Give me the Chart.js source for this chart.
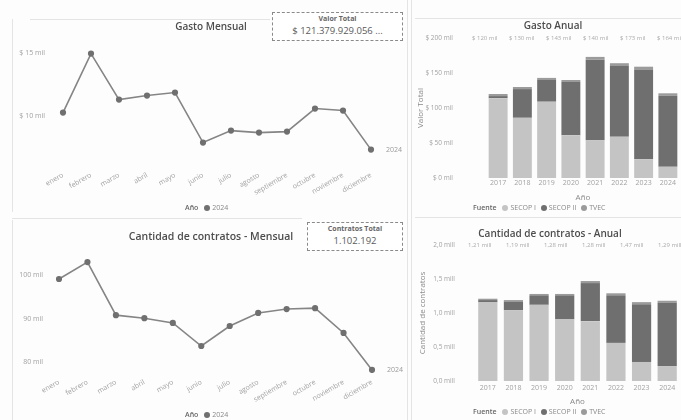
<!DOCTYPE html>
<html lang="es">
<head>
<meta charset="utf-8">
<title>Gasto y contratos</title>
<script src="https://cdn.jsdelivr.net/npm/chart.js@4.4.1/dist/chart.umd.min.js"></script>
<style>
    html, body { margin: 0; padding: 0; background: #fdfdfd; }
    #page { position: relative; width: 681px; height: 420px; overflow: hidden; font-family: "Open Sans", sans-serif; color: #555; }
    .line { position: absolute; background: #e4e4e4; }
    .chart { position: absolute; }
    .title { position: absolute; text-align: center; font-size: 10px; font-weight: 600; color: #4d4d4d; white-space: nowrap; }
    .kpi { position: absolute; border: 1px dashed #8a8a8a; text-align: center; background: #fff; }
    .kpi .k-title { font-size: 7px; font-weight: 700; color: #666; line-height: 10px; margin-top: 1px; }
    .kpi .k-value { font-size: 9.5px; color: #5a5a5a; line-height: 14px; }
    .legend { position: absolute; font-size: 7px; color: #888; white-space: nowrap; line-height: 10px; }
    .legend b { font-weight: 600; color: #666; margin-right: 3px; }
    .legend span.dot { display: inline-block; width: 6px; height: 6px; border-radius: 3px; margin: 0 2px 0 3px; vertical-align: -1px; }
</style>
</head>
<body>
<div id="page">
    <div class="line" style="left:12px;top:19px;width:1px;height:193px;"></div>
    <div class="line" style="left:30px;top:19px;width:240px;height:1px;"></div>
    <div class="line" style="left:407px;top:0;width:1px;height:420px;"></div>
    <div class="line" style="left:411px;top:0;width:1px;height:420px;"></div>
    <div class="line" style="left:415px;top:18px;width:266px;height:1px;"></div>
    <div class="line" style="left:12px;top:220px;width:1px;height:200px;"></div>
    <div class="line" style="left:12px;top:218px;width:290px;height:1px;"></div>
    <div class="line" style="left:415px;top:217px;width:266px;height:1px;"></div>

    <div class="chart" style="left:0;top:0;"><canvas id="gastoMensual" width="405" height="212"></canvas></div>
    <div class="chart" style="left:412px;top:0;"><canvas id="gastoAnual" width="269" height="212"></canvas></div>
    <div class="chart" style="left:0;top:212px;"><canvas id="contratosMensual" width="405" height="208"></canvas></div>
    <div class="chart" style="left:412px;top:212px;"><canvas id="contratosAnual" width="269" height="208"></canvas></div>

    <div class="title" style="left:131px;top:19px;width:160px;">Gasto Mensual</div>
    <div class="title" style="left:473px;top:18px;width:160px;">Gasto Anual</div>
    <div class="title" style="left:111px;top:229px;width:200px;font-size:10.5px;">Cantidad de contratos - Mensual</div>
    <div class="title" style="left:450px;top:226px;width:200px;">Cantidad de contratos - Anual</div>

    <div class="kpi" style="left:272px;top:12px;width:129px;height:27px;">
        <div class="k-title">Valor Total</div>
        <div class="k-value">$ 121.379.929.056 ...</div>
    </div>
    <div class="kpi" style="left:307px;top:222px;width:94px;height:27px;">
        <div class="k-title">Contratos Total</div>
        <div class="k-value">1.102.192</div>
    </div>

    <div class="legend" id="legendAnio1" style="left:185px;top:203px;"></div>
    <div class="legend" id="legendAnio2" style="left:185px;top:410px;"></div>
    <div class="legend" id="legendFuente1" style="left:473px;top:203px;"></div>
    <div class="legend" id="legendFuente2" style="left:473px;top:407px;"></div>
</div>

<script>
// meses y años
var meses = ['enero', 'febrero', 'marzo', 'abril', 'mayo', 'junio', 'julio', 'agosto', 'septiembre', 'octubre', 'noviembre', 'diciembre'];
var anios = ['2017', '2018', '2019', '2020', '2021', '2022', '2023', '2024'];
var anioSerie = '2024';

// gasto mensual 2024, en mil millones de pesos
var gastoMes = [10.24, 14.92, 11.27, 11.59, 11.83, 7.86, 8.81, 8.65, 8.73, 10.56, 10.40, 7.30];
var gastoMesTicks = [10, 15];

// contratos por mes 2024
var contratosMes = [99100, 103000, 90800, 90100, 89000, 83700, 88300, 91300, 92200, 92400, 86700, 78200];
var contratosMesTicks = [80000, 90000, 100000];

// gasto anual por fuente, en mil millones
var fuentes = ['SECOP I', 'SECOP II', 'TVEC'];
var fuenteColores = ['#c4c4c4', '#6f6f6f', '#9b9b9b'];
var gastoSecop1 = [114, 86, 109, 61, 54, 59, 27, 16];
var gastoSecop2 = [3, 41, 31, 76, 115, 101, 128, 102];
var gastoTvec = [3, 3, 3, 3, 4, 4, 4, 3];

// contratos anuales por fuente, en millones
var contratosSecop1 = [1.16, 1.04, 1.12, 0.91, 0.88, 0.56, 0.28, 0.22];
var contratosSecop2 = [0.03, 0.13, 0.14, 0.35, 0.56, 0.70, 0.85, 0.93];
var contratosTvec = [0.02, 0.02, 0.02, 0.02, 0.03, 0.03, 0.03, 0.03];

var tickColor = '#a2a2a2';
var fontName = '"Open Sans", sans-serif';

Chart.defaults.font.family = fontName;
Chart.defaults.color = tickColor;

// etiqueta "2024" al final de la línea
var endLabelPlugin = {
    id: 'endLabel',
    afterDatasetsDraw: function (chart) {
        var ctx = chart.ctx;
        chart.data.datasets.forEach(function (ds, i) {
            var pts = chart.getDatasetMeta(i).data;
            var last = pts[pts.length - 1];
            ctx.save();
            ctx.font = '7px ' + fontName;
            ctx.fillStyle = '#9a9a9a';
            ctx.textBaseline = 'middle';
            ctx.fillText(ds.label, last.x + 15, last.y);
            ctx.restore();
        });
    }
};

// fila de totales arriba del gráfico
var totalsRowPlugin = {
    id: 'totalsRow',
    afterDraw: function (chart, args, opts) {
        if (!opts.labels) {
            return;
        }
        var ctx = chart.ctx;
        var area = chart.chartArea;
        ctx.save();
        ctx.font = '6px ' + fontName;
        ctx.fillStyle = '#ababab';
        ctx.textBaseline = 'middle';
        opts.labels.forEach(function (t, i) {
            ctx.fillText(t, area.left + opts.start + i * opts.step, area.top);
        });
        ctx.restore();
    }
};

function sumar(a, b, c) {
    return a.map(function (v, i) { return v + b[i] + c[i]; });
}

function fixedTicks(list) {
    return function (scale) {
        scale.ticks = list.map(function (v) { return { value: v }; });
    };
}

// ancho fijo del eje y, sin que el padding de las etiquetas mueva el área
function fixedWidth(w) {
    return function (scale) {
        scale.width = w;
        scale.paddingTop = 0;
        scale.paddingBottom = 0;
    };
}

var noGrid = { display: false, drawTicks: false };

function lineOptions(values, label, yMin, yMax, ticks, fmt, pad, xHeight, yPad) {
    return {
        type: 'line',
        data: {
            labels: meses,
            datasets: [
                {
                    label: label,
                    data: values,
                    borderColor: '#858585',
                    borderWidth: 1.6,
                    pointRadius: 2.3,
                    pointBackgroundColor: '#707070',
                    pointBorderColor: '#707070',
                    tension: 0
                }
            ]
        },
        options: {
            responsive: false,
            animation: false,
            layout: { padding: pad },
            plugins: {
                legend: { display: false },
                tooltip: { enabled: false }
            },
            scales: {
                x: {
                    grid: noGrid,
                    border: { display: false },
                    ticks: { font: { size: 7 }, minRotation: 30, maxRotation: 30, autoSkip: false, padding: 5 },
                    afterFit: function (scale) { scale.height = xHeight; }
                },
                y: {
                    min: yMin,
                    max: yMax,
                    grid: noGrid,
                    border: { display: false },
                    ticks: { font: { size: 7 }, padding: yPad, callback: fmt },
                    afterBuildTicks: fixedTicks(ticks),
                    afterFit: fixedWidth(50)
                }
            }
        },
        plugins: [endLabelPlugin]
    };
}

function barOptions(s1, s2, s3, yMax, step, fmt, yTitle, totals, rowStart, rowStep, yWidth, tickPad, pad, xHeight, xPad, barPct) {
    var series = [s1, s2, s3];
    return {
        type: 'bar',
        data: {
            labels: anios,
            datasets: series.map(function (s, i) {
                return {
                    label: fuentes[i],
                    data: s,
                    backgroundColor: fuenteColores[i],
                    categoryPercentage: 1,
                    barPercentage: barPct
                };
            })
        },
        options: {
            responsive: false,
            animation: false,
            layout: { padding: pad },
            plugins: {
                legend: { display: false },
                tooltip: { enabled: false },
                totalsRow: { labels: totals, start: rowStart, step: rowStep }
            },
            scales: {
                x: {
                    stacked: true,
                    grid: noGrid,
                    border: { display: false },
                    ticks: { font: { size: 7 }, maxRotation: 0, padding: xPad },
                    title: { display: true, text: 'Año', font: { size: 8 }, color: '#8a8a8a', padding: { top: 0, bottom: 1.5 } },
                    afterFit: function (scale) { scale.height = xHeight; }
                },
                y: {
                    stacked: true,
                    min: 0,
                    max: yMax,
                    grid: noGrid,
                    border: { display: false },
                    ticks: { font: { size: 6.5 }, stepSize: step, padding: tickPad, callback: fmt },
                    title: { display: true, text: yTitle, font: { size: 8 }, color: '#8a8a8a' },
                    afterFit: fixedWidth(yWidth)
                }
            }
        },
        plugins: [totalsRowPlugin]
    };
}

function showGastoMensual() {
    var cfg = lineOptions(gastoMes, anioSerie, 6, 16, gastoMesTicks,
        function (v) { return '$ ' + v + ' mil'; },
        { left: 13, right: 34, top: 40, bottom: 0 }, 46, 18);
    new Chart(document.getElementById('gastoMensual'), cfg);
}

function showContratosMensual() {
    var cfg = lineOptions(contratosMes, anioSerie, 77500, 106000, contratosMesTicks,
        function (v) { return (v / 1000) + ' mil'; },
        { left: 9, right: 33, top: 37, bottom: 0 }, 47, 16);
    new Chart(document.getElementById('contratosMensual'), cfg);
}

function showGastoAnual() {
    var totales = sumar(gastoSecop1, gastoSecop2, gastoTvec).map(function (v) {
        return '$ ' + Math.round(v) + ' mil';
    });
    var cfg = barOptions(gastoSecop1, gastoSecop2, gastoTvec, 200, 50,
        function (v) { return '$ ' + v + ' mil'; },
        'Valor Total', totales, -14, 37, 74, 33,
        { left: 0, right: 1, top: 38, bottom: 8 }, 26, 1, 0.78);
    new Chart(document.getElementById('gastoAnual'), cfg);
}

function showContratosAnual() {
    var totales = sumar(contratosSecop1, contratosSecop2, contratosTvec).map(function (v) {
        return v.toFixed(2).replace('.', ',') + ' mill';
    });
    var cfg = barOptions(contratosSecop1, contratosSecop2, contratosTvec, 2, 0.5,
        function (v) { return v.toFixed(1).replace('.', ',') + ' mill'; },
        'Cantidad de contratos', totales, -7, 38, 61, 20,
        { left: 2, right: 1, top: 33, bottom: 12 }, 27, 3, 0.75);
    new Chart(document.getElementById('contratosAnual'), cfg);
}

function buildLegends() {
    var anio = '<b>Año</b><span class="dot" style="background:#707070"></span>' + anioSerie;
    document.getElementById('legendAnio1').innerHTML = anio;
    document.getElementById('legendAnio2').innerHTML = anio;

    var fuente = '<b>Fuente</b>';
    fuentes.forEach(function (f, i) {
        fuente += '<span class="dot" style="background:' + fuenteColores[i] + '"></span>' + f + ' ';
    });
    document.getElementById('legendFuente1').innerHTML = fuente;
    document.getElementById('legendFuente2').innerHTML = fuente;
}

showGastoMensual();
showGastoAnual();
showContratosMensual();
showContratosAnual();
buildLegends();
</script>
</body>
</html>
